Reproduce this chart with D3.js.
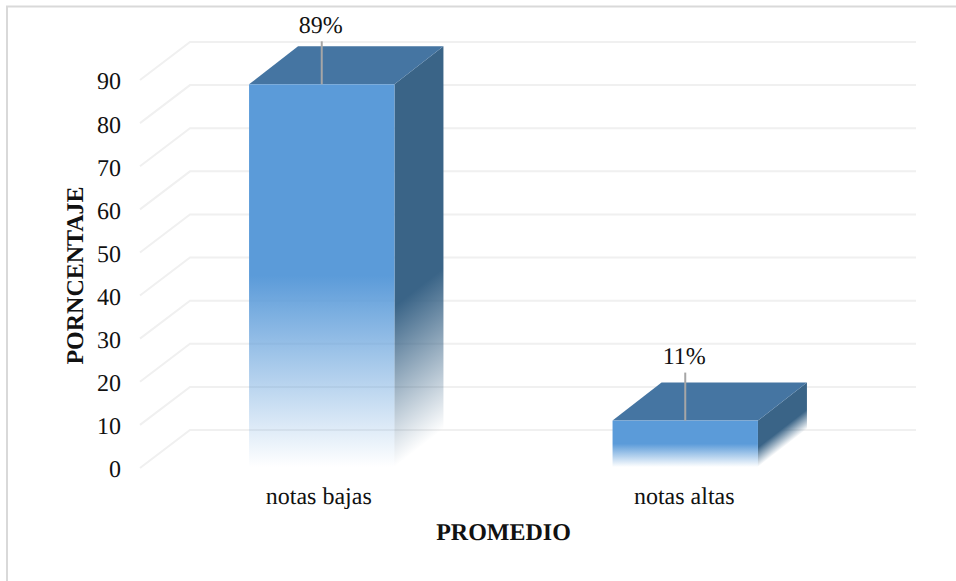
<!DOCTYPE html>
<html>
<head>
<meta charset="utf-8">
<script src="https://cdn.jsdelivr.net/npm/d3@7"></script>
<style>
  html, body { margin: 0; padding: 0; background: #fff; }
  svg { display: block; }
  text { font-family: "Liberation Serif", serif; fill: #111; text-rendering: geometricPrecision; }
</style>
</head>
<body>
<svg id="chart" width="956" height="581"></svg>
<script>
const categories = ["notas bajas", "notas altas"];
const values = [89, 11];
const valueLabels = ["89%", "11%"];
const yTicks = [0, 10, 20, 30, 40, 50, 60, 70, 80, 90];
const yAxisTitle = "PORNCENTAJE";
const xAxisTitle = "PROMEDIO";

const svg = d3.select("#chart");
const depthX = 49, depthY = 38;       // oblique offset of the 3D box

const x = d3.scaleBand().domain(categories).range([140, 867]).paddingInner(0.6).paddingOuter(0.3);
const y = d3.scaleLinear().domain([0, 90]).range([468, 80]);

// Chart frame: only the top and left edges fall inside the page
svg.append("path").attr("d", "M7,581V6.5H956")
  .attr("fill", "none").attr("stroke", "#d9d9d9").attr("stroke-width", 2);

// Downward fade used by the front and side faces
const defs = svg.append("defs");
function fade(id, color, solidUntil) {
  const g = defs.append("linearGradient").attr("id", id)
    .attr("x1", 0).attr("y1", 0).attr("x2", 0).attr("y2", 1);
  g.append("stop").attr("offset", 0).attr("stop-color", color);
  g.append("stop").attr("offset", solidUntil).attr("stop-color", color);
  g.append("stop").attr("offset", 1).attr("stop-color", color).attr("stop-opacity", 0);
}
fade("frontFade", "#5b9bd9", 0.5);
fade("sideFade", "#3a6487", 0.58);

// Gridlines: a diagonal along the side wall, then across the back wall
svg.append("g").selectAll("path").data(yTicks).join("path")
  .attr("d", d => {
    const p = d3.path();
    p.moveTo(x.range()[0], y(d));
    p.lineTo(x.range()[0] + depthX + 1, y(d) - depthY);
    p.lineTo(916, y(d) - depthY);
    return p.toString();
  })
  .attr("fill", "none").attr("stroke", "#f0f0f0").attr("stroke-width", 2);

// Value axis
const axis = svg.append("g").attr("transform", "translate(121,0)")
  .call(d3.axisLeft(y).tickValues(yTicks).tickSize(0).tickPadding(0));
axis.select(".domain").remove();
axis.selectAll("text")
  .attr("dy", "0.37em")
  .style("font-family", '"Liberation Serif", serif')
  .style("font-size", "24px")
  .style("fill", "#111");

// Bars as oblique boxes
const bars = svg.append("g").selectAll("g")
  .data(categories.map((c, i) => ({ c, v: values[i], label: valueLabels[i] })))
  .join("g");

// Side face: skewing a rect keeps the fade running parallel to the depth edges
bars.append("rect")
  .attr("x", 0).attr("y", 0)
  .attr("width", depthX)
  .attr("height", d => y(0) - y(d.v) - 1)
  .attr("transform", d => `matrix(1,${-depthY / depthX},0,1,${x(d.c) + x.bandwidth()},${y(d.v)})`)
  .attr("fill", "url(#sideFade)");

// Top face
bars.append("path")
  .attr("d", d => {
    const l = x(d.c), r = l + x.bandwidth(), t = y(d.v);
    const p = d3.path();
    p.moveTo(l, t);
    p.lineTo(l + depthX, t - depthY);
    p.lineTo(r + depthX, t - depthY);
    p.lineTo(r, t);
    p.closePath();
    return p.toString();
  })
  .attr("fill", "#4575a2");

// Front face
bars.append("rect")
  .attr("x", d => x(d.c))
  .attr("y", d => y(d.v))
  .attr("width", x.bandwidth())
  .attr("height", d => y(0) - y(d.v) - 1)
  .attr("fill", "url(#frontFade)");

// Leader lines from the value labels down to the box
bars.append("line")
  .attr("x1", d => x(d.c) + x.bandwidth() / 2)
  .attr("x2", d => x(d.c) + x.bandwidth() / 2)
  .attr("y1", d => d.v > 50 ? y(d.v) - 43 : y(d.v) - 48)
  .attr("y2", d => y(d.v))
  .attr("stroke", "#a6a6a6").attr("stroke-width", 2);

bars.append("text")
  .attr("x", d => x(d.c) + x.bandwidth() / 2 - 1)
  .attr("y", d => d.v > 50 ? y(d.v) - 51 : y(d.v) - 57)
  .attr("text-anchor", "middle")
  .style("font-size", "24px")
  .text(d => d.label);

// Category labels
svg.append("g").selectAll("text").data(categories).join("text")
  .attr("x", (d, i) => x(d) + x.bandwidth() / 2 + (i === 0 ? -3 : -1))
  .attr("y", 504)
  .attr("text-anchor", "middle")
  .style("font-size", "24px")
  .text(d => d);

// Axis titles
svg.append("text")
  .attr("x", 503.5).attr("y", 540)
  .attr("text-anchor", "middle")
  .style("font-size", "24px").style("font-weight", "bold")
  .text(xAxisTitle);

svg.append("text")
  .attr("transform", "translate(82.5,275.5) rotate(-90)")
  .attr("text-anchor", "middle")
  .style("font-size", "24px").style("font-weight", "bold")
  .text(yAxisTitle);
</script>
</body>
</html>
